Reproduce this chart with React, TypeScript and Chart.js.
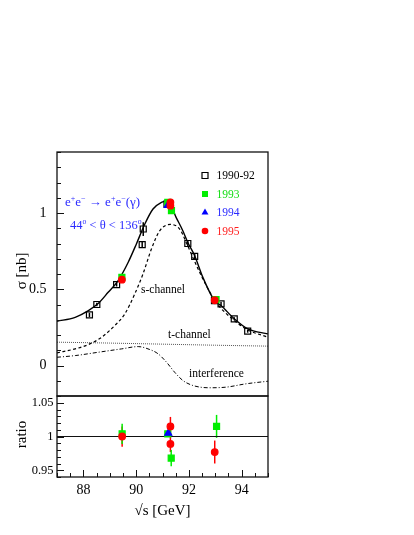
import React, { useEffect, useRef } from "react";
import { Chart, registerables } from "chart.js";

Chart.register(...registerables);

// ---------- axis ranges and tick labels ----------
const xRange = [87, 95];
const sigmaRange = [-0.2, 1.4];
const ratioRange = [0.94, 1.06];
const xTickLabels = [88, 90, 92, 94];
const sigmaTickLabels = [0, 0.5, 1];
const ratioTickLabels = [0.95, 1, 1.05];

// ---------- measured cross sections ----------
const e9092 = [88.23, 88.51, 89.26, 90.23, 90.27, 91.17, 91.96, 92.22, 92.97, 93.22, 93.72, 94.23];
const s9092 = [0.332, 0.4, 0.53, 0.792, 0.895, 1.058, 0.8, 0.716, 0.426, 0.404, 0.306, 0.225];
const err9092 = [0.014, 0.012, 0.012, 0.02, 0.045, 0.02, 0.02, 0.02, 0.012, 0.012, 0.01, 0.01];

const e93 = [89.46, 91.2, 91.34, 93.03];
const s93 = [0.578, 1.07, 1.015, 0.432];
const err93 = [0.008, 0.006, 0.006, 0.006];

const e94 = [91.2];
const s94 = [1.05];
const err94 = [0.004];

const e95 = [89.46, 91.3, 91.3, 92.98];
const s95 = [0.563, 1.07, 1.048, 0.428];
const err95 = [0.008, 0.008, 0.008, 0.007];

// ---------- ratio data / fit ----------
const r93x = [89.47, 91.2, 91.33, 93.05];
const r93 = [1.004, 1.004, 0.968, 1.015];
const r93err = [0.015, 0.003, 0.012, 0.017];

const r94x = [91.22];
const r94 = [1.005];
const r94err = [0.003];

const r95x = [89.47, 91.3, 91.3, 92.98];
const r95 = [1.0, 1.015, 0.989, 0.977];
const r95err = [0.015, 0.014, 0.012, 0.017];

// ---------- curves ----------
const totalX = [87.0, 87.69, 88.19, 88.57, 88.94, 89.32, 89.7, 90.01, 90.33, 90.64, 90.96, 91.21, 91.52, 91.77, 91.96, 92.22, 92.53, 92.97, 93.22, 93.72, 94.23, 95.0];
const totalY = [0.29, 0.316, 0.36, 0.408, 0.48, 0.557, 0.677, 0.797, 0.928, 1.026, 1.07, 1.08, 0.97, 0.884, 0.807, 0.72, 0.578, 0.426, 0.393, 0.306, 0.24, 0.207];

const sChanX = [87.0, 87.69, 88.19, 88.69, 89.19, 89.57, 89.95, 90.26, 90.58, 90.9, 91.3, 91.65, 91.9, 92.15, 92.53, 93.03, 93.72, 94.23, 95.0];
const sChanY = [0.083, 0.109, 0.137, 0.185, 0.262, 0.338, 0.47, 0.6, 0.764, 0.885, 0.925, 0.895, 0.807, 0.709, 0.568, 0.415, 0.295, 0.234, 0.185];

const tChanX = [87, 89, 91, 93, 95];
const tChanY = [0.153, 0.147, 0.14, 0.133, 0.127];

const interX = [87.0, 87.69, 88.57, 89.45, 90.08, 90.45, 90.83, 91.15, 91.46, 91.77, 92.15, 92.78, 93.41, 94.17, 95.0];
const interY = [0.054, 0.065, 0.087, 0.109, 0.124, 0.109, 0.077, 0.022, -0.044, -0.098, -0.131, -0.146, -0.142, -0.12, -0.103];

const ratioLineX = [87, 95];
const ratioLineY = [1, 1];

const legendLabels = ["1990-92", "1993", "1994", "1995"];

const GREEN = "#00ee00";
const BLUE = "#0000ff";
const RED = "#ff0000";
const SERIF = "'Liberation Serif', 'Times New Roman', serif";

const pts = (xs: number[], ys: number[]) => xs.map((x, i) => ({ x, y: ys[i] }));

type Seg = { t: string; sup?: boolean };

function drawRich(ctx: CanvasRenderingContext2D, segs: Seg[], x: number, y: number, size: number, color: string) {
  ctx.save();
  ctx.fillStyle = color;
  ctx.textBaseline = "alphabetic";
  ctx.textAlign = "left";
  let cx = x;
  for (const s of segs) {
    const fs = s.sup ? size * 0.62 : size;
    ctx.font = `${fs}px ${SERIF}`;
    const dy = s.sup ? -size * 0.42 : 0;
    ctx.fillText(s.t, cx, y + dy);
    cx += ctx.measureText(s.t).width;
  }
  ctx.restore();
}

function marker(ctx: CanvasRenderingContext2D, kind: string, x: number, y: number, color: string) {
  ctx.save();
  ctx.strokeStyle = color;
  ctx.fillStyle = color;
  ctx.lineWidth = 1.2;
  ctx.beginPath();
  if (kind === "open") {
    ctx.rect(x - 3, y - 3, 6, 6);
    ctx.stroke();
  } else if (kind === "square") {
    ctx.rect(x - 3, y - 3, 6, 6);
    ctx.fill();
  } else if (kind === "tri") {
    const r = 4;
    ctx.moveTo(x, y - r);
    ctx.lineTo(x + r * 0.866, y + r * 0.5);
    ctx.lineTo(x - r * 0.866, y + r * 0.5);
    ctx.closePath();
    ctx.fill();
  } else {
    ctx.arc(x, y, 3.3, 0, Math.PI * 2);
    ctx.fill();
  }
  ctx.restore();
}

const rootPlugin = {
  id: "rootStyle",
  beforeDatasetsDraw(chart: any) {
    const ctx: CanvasRenderingContext2D = chart.ctx;
    const xs = chart.scales.x;
    chart.data.datasets.forEach((ds: any) => {
      if (!ds.errs) return;
      const ys = chart.scales[ds.yAxisID];
      ctx.save();
      ctx.strokeStyle = ds.errColor;
      ctx.lineWidth = 1.5;
      ds.data.forEach((d: any, j: number) => {
        const e = ds.errs[j];
        const px = xs.getPixelForValue(d.x);
        ctx.beginPath();
        ctx.moveTo(px, ys.getPixelForValue(d.y - e));
        ctx.lineTo(px, ys.getPixelForValue(d.y + e));
        ctx.stroke();
      });
      ctx.restore();
    });
  },
  afterDraw(chart: any) {
    const ctx: CanvasRenderingContext2D = chart.ctx;
    const xs = chart.scales.x;
    const ys = chart.scales.y;
    const yr = chart.scales.yr;
    const L = xs.left, R = xs.right;
    ctx.save();
    ctx.strokeStyle = "#111";
    ctx.lineWidth = 1.3;
    // frames
    ctx.strokeRect(L, ys.top, R - L, ys.bottom - ys.top);
    ctx.strokeRect(L, yr.top, R - L, yr.bottom - yr.top);

    ctx.lineWidth = 1;
    // top panel y ticks
    for (let k = -2; k <= 14; k++) {
      const v = k / 10;
      const p = Math.round(ys.getPixelForValue(v)) + 0.5;
      const major = k % 5 === 0;
      ctx.beginPath();
      ctx.moveTo(L, p);
      ctx.lineTo(L + (major ? 7 : 4), p);
      ctx.stroke();
    }
    // ratio y ticks
    for (let k = 94; k <= 106; k++) {
      const v = k / 100;
      const p = Math.round(yr.getPixelForValue(v)) + 0.5;
      const major = k % 5 === 0;
      ctx.beginPath();
      ctx.moveTo(L, p);
      ctx.lineTo(L + (major ? 7 : 4), p);
      ctx.stroke();
    }
    // x ticks at bottom
    for (let k = 174; k <= 190; k++) {
      const v = k / 2;
      const p = Math.round(xs.getPixelForValue(v)) + 0.5;
      const major = k % 4 === 0;
      ctx.beginPath();
      ctx.moveTo(p, yr.bottom);
      ctx.lineTo(p, yr.bottom - (major ? 7 : 4));
      ctx.stroke();
    }

    // tick labels
    ctx.fillStyle = "#000";
    ctx.font = `14px ${SERIF}`;
    ctx.textAlign = "right";
    ctx.textBaseline = "middle";
    sigmaTickLabels.forEach((v) => ctx.fillText(String(v), L - 10.5, ys.getPixelForValue(v)));
    ctx.font = `12.5px ${SERIF}`;
    ratioTickLabels.forEach((v) => ctx.fillText(String(v), L - 3.5, yr.getPixelForValue(v)));
    ctx.font = `14px ${SERIF}`;
    ctx.textAlign = "center";
    xTickLabels.forEach((v) => ctx.fillText(String(v), xs.getPixelForValue(v), yr.bottom + 13));

    // axis titles
    ctx.font = `15px ${SERIF}`;
    ctx.fillText("\u221As [GeV]", (L + R) / 2, yr.bottom + 34);
    ctx.save();
    ctx.translate(22, ys.getPixelForValue(0.62));
    ctx.rotate(-Math.PI / 2);
    ctx.fillText("\u03C3 [nb]", 0, 0);
    ctx.restore();
    ctx.save();
    ctx.translate(22, yr.getPixelForValue(1.003));
    ctx.rotate(-Math.PI / 2);
    ctx.fillText("ratio", 0, 0);
    ctx.restore();

    // curve labels
    ctx.font = `11.5px ${SERIF}`;
    ctx.textAlign = "left";
    ctx.fillText("s-channel", 141, 290);
    ctx.fillText("t-channel", 168, 335);
    ctx.fillText("interference", 189, 374);

    // process label
    drawRich(
      ctx,
      [{ t: "e" }, { t: "+", sup: true }, { t: "e" }, { t: "\u2212", sup: true }, { t: " \u2192 " }, { t: "e" }, { t: "+", sup: true }, { t: "e" }, { t: "\u2212", sup: true }, { t: "(\u03B3)" }],
      65, 206, 13, "#2a2aff"
    );
    drawRich(
      ctx,
      [{ t: "44" }, { t: "o", sup: true }, { t: " < \u03B8 < 136" }, { t: "o", sup: true }],
      70, 229, 12.5, "#2a2aff"
    );

    // legend
    const rows = [175.5, 194, 212.5, 231];
    const kinds = ["open", "square", "tri", "circle"];
    const mcol = ["#000", GREEN, BLUE, RED];
    const tcol = ["#000", "#11dd11", "#2a2aff", "#ff2020"];
    ctx.font = `11.5px ${SERIF}`;
    ctx.textBaseline = "middle";
    rows.forEach((yy, i) => {
      marker(ctx, kinds[i], 205, yy, mcol[i]);
      ctx.fillStyle = tcol[i];
      ctx.fillText(legendLabels[i], 216.5, yy + 0.5);
    });
    ctx.restore();
  },
};

export default function App() {
  const ref = useRef<HTMLCanvasElement | null>(null);
  useEffect(() => {
    if (!ref.current) return;
    const lineDs = (xs: number[], ys: number[], dash: number[], color: string, w: number, axis = "y") => ({
      type: "line" as const,
      data: pts(xs, ys),
      yAxisID: axis,
      borderColor: color,
      borderWidth: w,
      borderDash: dash,
      pointRadius: 0,
      fill: false,
      showLine: true,
      cubicInterpolationMode: "monotone" as const,
    });
    const ptDs = (xs: number[], ys: number[], errs: number[], style: string, r: number, fillC: string, borderC: string, axis: string) => ({
      type: "scatter" as const,
      data: pts(xs, ys),
      yAxisID: axis,
      errs,
      errColor: borderC,
      pointStyle: style,
      pointRadius: r,
      backgroundColor: fillC,
      borderColor: borderC,
      borderWidth: 1.2,
      showLine: false,
    });
    const chart = new Chart(ref.current, {
      type: "scatter",
      data: {
        datasets: [
          ptDs(e95, s95, err95, "circle", 3.3, RED, RED, "y"),
          ptDs(e94, s94, err94, "triangle", 4, BLUE, BLUE, "y"),
          ptDs(e93, s93, err93, "rect", 4.24, GREEN, GREEN, "y"),
          ptDs(e9092, s9092, err9092, "rect", 4.24, "rgba(0,0,0,0)", "#000", "y"),
          ptDs(r95x, r95, r95err, "circle", 3.3, RED, RED, "yr"),
          ptDs(r94x, r94, r94err, "triangle", 4, BLUE, BLUE, "yr"),
          ptDs(r93x, r93, r93err, "rect", 4.24, GREEN, GREEN, "yr"),
          lineDs(totalX, totalY, [], "#000", 1.4),
          lineDs(sChanX, sChanY, [3, 2.5], "#000", 1.2),
          lineDs(tChanX, tChanY, [1, 1], "#555", 1),
          lineDs(interX, interY, [4, 2, 1, 2], "#000", 1),
          lineDs(ratioLineX, ratioLineY, [], "#111", 1.2, "yr"),
        ] as any,
      },
      options: {
        animation: false,
        responsive: false,
        events: [],
        layout: { padding: { left: 57, right: 146, top: 152, bottom: 58 } },
        plugins: { legend: { display: false }, tooltip: { enabled: false } },
        scales: {
          x: { type: "linear", min: xRange[0], max: xRange[1], display: false },
          yr: { type: "linear", min: ratioRange[0], max: ratioRange[1], display: false, position: "left", stack: "panels", stackWeight: 81 },
          y: { type: "linear", min: sigmaRange[0], max: sigmaRange[1], display: false, position: "left", stack: "panels", stackWeight: 244 },
        } as any,
      },
      plugins: [rootPlugin],
    });
    return () => chart.destroy();
  }, []);
  return (
    <div style={{ position: "absolute", left: 0, top: 0, width: 414, height: 535, background: "#fff" }}>
      <canvas ref={ref} width={414} height={535} style={{ display: "block" }} />
    </div>
  );
}
